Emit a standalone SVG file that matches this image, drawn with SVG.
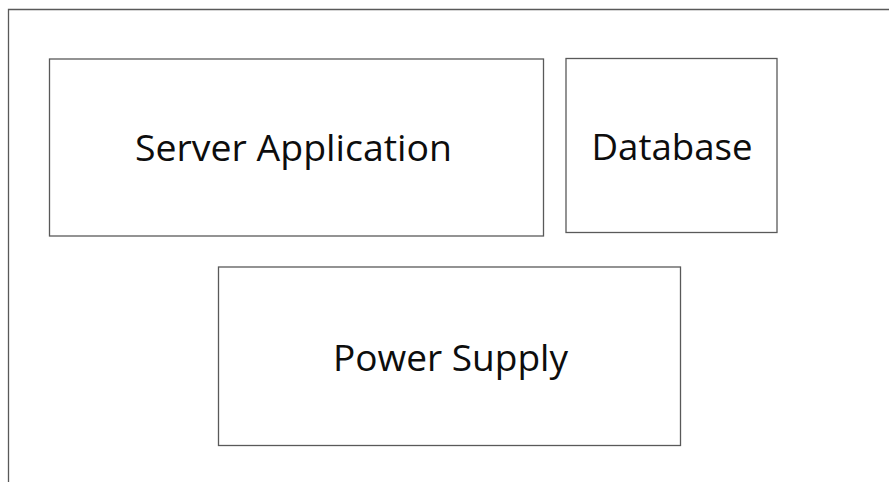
<svg xmlns="http://www.w3.org/2000/svg" width="889" height="482" viewBox="0 0 889 482">
<style>
.box{fill:#fff;stroke:#595959;stroke-width:1.3}
.frame{fill:none;stroke:#595959;stroke-width:1.3}
.lbl{font-family:"Open Sans","Liberation Sans",Arial,sans-serif;font-size:37px;fill:#0d0d0d}
</style>
<rect width="889" height="482" fill="#fff"/>
<path class="frame" d="M8.5,482 V9.5 H889"/>
<g id="server-application">
<rect class="box" x="49.5" y="59" width="494" height="177"/>
<text class="lbl" x="135" y="161" textLength="317" lengthAdjust="spacingAndGlyphs">Server Application</text>
</g>
<g id="database">
<rect class="box" x="566" y="58.5" width="211" height="174"/>
<text class="lbl" x="591.5" y="160" textLength="161" lengthAdjust="spacingAndGlyphs">Database</text>
</g>
<g id="power-supply">
<rect class="box" x="218.5" y="267" width="462" height="178.5"/>
<text class="lbl" x="333" y="370.5" textLength="235" lengthAdjust="spacingAndGlyphs">Power Supply</text>
</g>
<g id="connectors"></g>
</svg>
